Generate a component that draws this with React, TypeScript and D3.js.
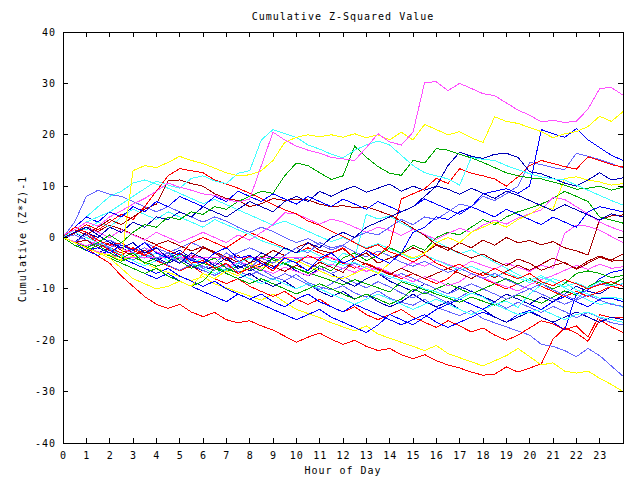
import React from "react";
import * as d3 from "d3";

const hours = [0,0.5,1,1.5,2,2.5,3,3.5,4,4.5,5,5.5,6,6.5,7,7.5,8,8.5,9,9.5,10,10.5,11,11.5,12,12.5,13,13.5,14,14.5,15,15.5,16,16.5,17,17.5,18,18.5,19,19.5,20,20.5,21,21.5,22,22.5,23,23.5,24];
const xTicks = [0,1,2,3,4,5,6,7,8,9,10,11,12,13,14,15,16,17,18,19,20,21,22,23];
const yTicks = [-40,-30,-20,-10,0,10,20,30,40];

const RED = "#ff0000", GREEN = "#00a800", BLUE = "#0000ff", MAGENTA = "#ff50ff", CYAN = "#40ffff",
  YELLOW = "#ffff00", DARKRED = "#a80000", DARKBLUE = "#0000b8", SLATE = "#6464ff";

const m1 = [0.5,1.5,3,2.2,4,5.2,6.5,7.6,9,10.6,9.8,9.2,8.5,8.2,7.4,6.9,7.5,14,20.5,19,17.8,17,16.4,15.6,15.3,15,17.5,20.2,18.6,18,20.5,30.2,30.3,28.6,30,29,28,27.6,26.2,24.8,23.8,22.5,22.8,22.4,22.6,25,29,29.2,27.7];
const y1 = [0,-1,-2,-3,-3.4,-4.5,13,14,13.6,14.6,15.8,15,14.4,13.5,12.6,12,12.2,13,15,18.5,19.5,20,19.6,20,19.5,20.2,19.4,20,19,20.5,19,22,21,20,20.6,19.4,18.5,23.5,22.6,22.2,21.4,20.6,19.4,20.2,20.6,21.6,23.6,22.6,24.5];
const c1 = [0,1.5,3,4,5,6.5,8,9.5,11,10.2,9.6,11.5,12,11,10.5,12.5,13,19,21,20.2,19.5,18,17.2,16.2,15.5,17,18,18.8,18,16,14,12.6,12,11.4,10.2,15.6,15.2,15,14,13.2,12.4,11.8,11.4,11.2,10.2,9.2,8.2,7.2,6.3];
const g1 = [0,-1,-2,-1,0.5,-1,1,2.5,2,4,3.5,5,4.5,6,5.5,7,8,9,8.6,12,14.5,14,12.6,11.3,12,17.8,15.6,13.8,12.5,12.1,15,14.5,17.3,17,16.2,15.5,14.6,13.6,12.6,12,11.6,11.4,10.8,10.2,9.4,9.6,10,9.2,9.8];
const b1 = [0,-1,-2.5,-2,-3,-1.5,-2.5,-1,-3,-4,-3,-4.5,-5,-3,-2,-4,-3.5,-5,-6,-4,-5,-6.5,-4,-3,-5,-4,-2.5,-4,-5,-3,1,2,4,3.5,5,6,8.5,9,9.5,8.6,10,21,20.2,19.5,21.2,19,17.5,16,15];
const b2 = [0,1,2,0.5,-1,-2,-1,-3,-2,-4,-5,-3,-4,-5.5,-4,-6,-5,-3,-4,-2,-3,-1,-2,0,1,0,2,3,4,5,6,8,10,14,16.6,15.8,15.4,16.2,16.4,15.6,12.8,12.4,11.5,10.6,10,11.2,12.6,11.2,11.6];
const s1 = [0,-1,0.5,-0.5,-2,-1,-3,-2,-4,-3,-5,-4,-6,-5,-3,-4.5,-6,-4,-5,-3.5,-2,-3,-1,-2,-1.5,0,1,0.5,2,3.5,2.5,4,3.5,5,6.5,6,8,7.2,8.5,10,14.6,14.2,13.6,13.2,16.4,15.8,15.2,14.4,13.5];
const r1 = [0,2,1,-0.5,-1.5,-1,-2.5,-3.5,-2,-4,-3,-5,-4.5,-6,-5,-7,-6,-5,-6.5,-4,-5,-3.5,-4.5,-3,-2,-4,-2.5,-3.5,-1.5,7.5,8.5,9.5,11.5,10.5,13.4,12.5,12,11.4,10,11.8,14,15,14.4,13.8,13.3,15.7,15,14.2,13.7];
const dr1 = [0,1.5,0.5,2,3.5,2.5,4,5.5,6.5,11,11.2,10.5,10,8.5,7.6,7.2,6,6.6,7.6,7.2,7.4,7.3,6.5,6,6.2,5.8,6,5.2,4.4,3.2,1.8,0.4,-1.4,-2,-3,-4,-3.2,-4.5,-5.5,-4.2,-5,-6.4,-5.5,-4.8,-6.2,-5,-3.8,-4.6,-4.4];
const r2 = [0,1,2.5,1.5,3,4.5,3.5,6,9,12,13.4,13,12.6,11.2,10.4,9.6,8.6,7.6,6.4,5.4,4.6,3.2,2.4,1.2,0.2,-1,-2.2,-1.4,-2.8,-3.6,-4.8,-3.4,-5,-6,-5.2,-6.6,-7.4,-6,-7.2,-8,-7,-8.6,-9.4,-8.2,-9,-10,-9.2,-8.6,-9.5];
const dr2 = [0,-1,-0.5,-2,-1,-2.5,-3.5,-2.5,-4,-3,-5,-4,-2,-3,-4.5,-3.5,-5,-4,-2.5,-3.5,-2,-1,-2.5,-3,-2.2,-4,-3,-5,-4,-3.2,-2,-3,-1.5,-2.5,-1,-2,-0.5,-1.5,0,-1,-0.6,-1.4,-0.8,-2,-2.6,-3.4,3.5,4.2,4.4];
const g2 = [0,-1.5,-2.5,-1.5,-3,-4,-3,-5,-4,-3,-4.5,-6,-5,-4,-6,-7,-5.5,-6.5,-4,-5,-6,-7,-5.5,-6.5,-4,-3,-4.5,-3.5,-2,-3,-1.5,-2.5,0,1,0.5,2,3.5,2.5,4,5,5.7,6.5,7.6,9,8,7,4,3.4,2.8];
const c2 = [0,2,1.5,3,2,4,5.5,4.5,3.5,5,4,3,2,3.5,2.5,1.5,0.6,-0.6,-1.4,-2.2,-3,-2.4,-3.6,-4.6,-5.4,-4.8,-6,-6.8,-7.6,-8.4,-9,-10,-10.6,-11.5,-12,-10.8,-11.6,-13,-12.4,-13.6,-11,-9.2,-8,-8.8,-10.2,-11,-11.8,-11.6,-12];
const s2 = [0,-0.8,-1.6,-1,-2.2,-3,-2,-3.4,-4.2,-3.6,-5,-4.2,-5.6,-6.4,-5.2,-6.6,-7.4,-6.2,-7.6,-8.4,-7.2,-8.8,-9.6,-10.2,-9.4,-10.8,-11.6,-10.4,-11.8,-12.6,-13.2,-12,-13.6,-14.4,-15.2,-14.2,-15.8,-16.6,-17.4,-18.2,-19,-20.8,-21.2,-22,-23.2,-21.6,-23,-25,-27];
const y2 = [0,-1,-2,-2.8,-3.6,-4.4,-3.6,-5,-6,-6.8,-7.6,-8.4,-7.6,-9,-9.8,-10.6,-11.4,-12.2,-11,-12.6,-14,-14.8,-15.6,-16.6,-17.4,-18.2,-17.2,-18.8,-19.6,-20.4,-21.2,-22,-21,-22.6,-23.4,-24.2,-25,-24,-23,-21.6,-23.2,-24.8,-24.4,-26,-26.4,-26,-27.4,-28.6,-30];
const r3 = [0,-1,-2,-3.6,-5,-7.5,-9.5,-11.5,-13,-13.8,-13,-14.5,-15.4,-14.6,-16,-16.6,-16.2,-17.2,-18,-19.2,-20.4,-19.4,-18.6,-19.8,-20.8,-20,-21.2,-22,-21.6,-22.8,-23.6,-22.8,-24,-24.8,-25.4,-26.2,-26.8,-26.6,-25.2,-26.2,-25.4,-24.6,-19.8,-17.6,-18.6,-20.2,-16,-17.4,-18.5];
const r4 = [0,-1,0.5,-1,-2,-3,-2,-3.5,-4.5,-5.5,-6.5,-5.5,-7,-8,-9,-8,-9.5,-10.5,-11.5,-10.5,-12,-13,-12,-13.5,-14.5,-13.5,-15,-16,-15,-14,-15.5,-16.5,-17.5,-16.2,-17.2,-18.4,-17.6,-19,-20,-19,-17.6,-16.2,-16.8,-18,-17.2,-19.4,-15,-15.6,-15.5];
const b3 = [0,-1.5,-2.5,-3.5,-2.5,-4,-5,-6,-7,-6,-7.5,-8.5,-9.5,-8.5,-10,-11,-12,-11,-12.5,-13.5,-12,-11,-12.5,-13.5,-14.5,-13,-14,-15,-16,-17,-16,-15,-16.5,-17.5,-16.5,-15.5,-14.5,-15.5,-16.5,-15,-14.2,-15.5,-16.5,-18,-11,-10.2,-8,-6.8,-6.3];
const b4 = [0,1,-0.5,-1.5,-0.5,-2,-3,-2,-4,-5,-4,-5.5,-6.5,-5.5,-7,-8,-7,-8.5,-9.5,-8.5,-10,-9,-10.5,-11.5,-10.5,-12,-11,-12.5,-13.5,-12.5,-11,-12.5,-13.5,-12.5,-14,-15,-14,-15.5,-16.5,-15.5,-14.5,-15.5,-16.5,-15.5,-14.5,-15.5,-16.5,-15.5,-16];
const m2 = [0,-0.8,-1.6,-0.6,-1.4,-2.2,-3,-2,-2.8,-3.6,-4.4,-3.4,-4.2,-5,-5.8,-4.6,-5.4,-6.2,-7,-5.8,-6.6,-7.4,-6.4,-5.2,-6,-6.8,-5.6,-6.4,-7.2,-6,-4.8,-5.6,-4.4,-5.2,-6,-4.6,-5.4,-6.2,-5,-5.8,-6.6,-5.4,-6,0.8,2.4,2.2,1.4,0.2,-1];
const m3 = [0,-1,-2,-2.8,-3.4,-3.9,-3.9,-3.9,-3.9,-3.9,-3.9,-3.9,-3.9,-3.9,-3.9,-3.9,-3.9,-3.9,-3.9,-3.9,-3.9,-3.9,-3.9,-3.9,-4.8,-5.6,-6.6,-5.8,-6.8,-7.6,-8.6,-7.6,-8.4,-9.4,-8.6,-7,-7.8,-8.8,-9.6,-10.4,-9.2,-8.2,-7.4,-6.4,-5.4,-6.2,-5.2,-6,-5.7];
const c3 = [0,1,0,-1,-2,-1,-3,-4,-3,-4.5,-3.5,-5,-4,-5.5,-6.5,-5,-4,-5,-6,-5,-4.5,-3.5,-4.5,-5.5,-3,-4,4.5,3.6,4.2,2.8,1.6,0.4,-0.8,-2,-3.2,-2.4,-3.6,-4.8,-6,-7.2,-8.4,-7.4,-8.6,-9.8,-11,-12.2,-13,-12.8,-13.6];
const s3 = [0,-1,-2,-1.2,-2.4,-3.4,-4.4,-3.2,-4.2,-5.4,-6.4,-5.2,-6.4,-7.4,-6.2,-5,-6,-7.2,-8.2,-7,-8,-9.2,-10.2,-9,-7.6,-8.8,-9.8,-8.6,-9.6,-10.8,-11.8,-10.6,-11.6,-12.8,-11.6,-10.4,-11.6,-12.6,-13.8,-12.6,-13.6,-14.6,-13.4,-14.4,-15.6,-14.6,-15.6,-16.6,-17];
const db1 = [0,-1,-2,-3,-2,-1,-2.5,-3.5,-4.5,-3.5,-2.5,-4,-5,-3,-4,-5.5,-6.5,-5.5,-4,-5,-6.5,-7.5,-6,-7,-8.5,-9.5,-8,-7,-8.5,-9.5,-10.5,-9,-10,-11,-9.5,-10.5,-11.5,-12.5,-11,-12,-13,-11.5,-12.5,-11,-9.5,-10.5,-11,-9.5,-10];
const g3 = [0,-0.8,-1.8,-2.8,-3.6,-4.6,-3.8,-4.8,-5.6,-4.8,-3.2,-4,-5,-5.8,-6.6,-5.6,-6.4,-3.6,-4.4,-5.2,-6,-6.8,-7.6,-8.4,-9.2,-8.2,-9,-9.8,-10.6,-8.6,-9.4,-10.2,-11,-11.8,-12.6,-11.6,-12.4,-13.2,-12,-11.2,-12,-12.8,-11.6,-10.4,-11.2,-9.6,-8.4,-9.2,-8];
const s4 = [0,3,8,9.2,8.4,8,7,6,5,6,5,4,3,4,3.2,2,1,2,1.2,0,-1,-0.2,-1.4,-2.4,-1.6,-2.8,-3.8,-2.6,-3.6,-4.8,-5.6,-4.6,-5.8,-6.8,-6,-7,-8,-7,-8.2,-9.2,-10,-9,-10.2,-11.2,-12.2,-11.2,-12.2,-13,-13.4];
const b6 = [0,2,4,3,5,4,6,5,7,6,8,7,6,8,7,9,8,7,8.5,7.5,6.5,8,7,6,7.5,6.5,5.5,7,6,5,6,7.5,6.5,5.5,4.5,6,5,4,5.5,4.5,3.5,2.5,4,3,2,5,6,5.5,5];
const db2 = [0,-1,1,0,2,1,3,2,4,3.5,5,4,6,5,4,5.5,7,6,5,7,8,7,9,8,9.2,10,8.8,9.6,10.4,9,10,9.2,10,9.4,8.4,9.6,8.6,7.6,9,8.2,7.2,6.2,5.2,6.4,5.4,4.4,3.4,4.6,4];
const c4 = [0,2,4,6,8,9,10.6,11.2,10.4,9.6,8.6,7.6,6.6,7.4,6.4,5.4,4.4,3.4,2.4,3.2,2.2,1.2,0.2,-0.8,0,-1,-2,-1.2,-2.2,-3.2,-4.2,-3.4,-4.4,-5.4,-6.4,-5.6,-6.6,-7.6,-6.8,-7.8,-8.8,-7.8,-8.6,-9.6,-8.8,-9.8,-8.6,-9.4,-9];
const dr3 = [0,0.8,2,1.2,2.4,1.6,0.6,-0.4,-1.4,-0.6,-1.6,-2.6,-1.8,-2.8,-3.8,-4.8,-3.6,-4.6,-5.6,-6.6,-5.4,-6.4,-4.8,-5.8,-6.8,-4.2,-5.2,-6.2,-7.2,-6,-7,-8,-7,-6,-7,-8,-6.8,-7.8,-6.6,-5.4,-6.4,-5.2,-4,-5,-6,-4.6,-3.6,-4.4,-3.2];
const y3 = [0,-1,-2,-3,-4,-6,-8,-9,-10,-9.5,-8.5,-9.5,-7,-8,-6.5,-7.5,-5,-6,-5,-4,-4.5,-5.5,-6.5,-7.5,-8,-7,-6,-7,-5,-3,-4,-3,-1,0,-1,1,2,3,2,3.5,4.5,6,5.5,11.5,11.8,11.2,10.8,10.2,10.5];
const g4 = [0,-1,-2,-3,-4,-5,-6,-7,-6,-7.5,-8.5,-9.5,-8.5,-6,-7,-8,-9,-8,-9,-10,-11,-10,-9,-10,-11,-12,-11,-12,-13,-12,-10,-11,-10,-9,-10,-11,-10,-9,-8,-9,-8,-9,-10,-9,-7,-6.5,-7,-7.8,-7.4];
const m4 = [0,1,2,1,0,1.5,0.5,-0.5,1,0,-1,0,1,0,-1,0.5,-0.5,1,2.5,4.8,4.6,3.6,2.6,3.6,3,2,1,2,1.4,0.4,1.6,0.6,-0.4,0.8,1.8,1,2.4,3.4,2.6,3.8,4.6,5.4,7.8,7.4,6,4.6,3,2,1.2];
const r5 = [0,-1,-2,-1,-2.5,-3.5,-2,-3,-1.5,-2.5,-3.5,-1,0,-1,-2,-0.5,1,0,-1,-2,-3,-2,-3,-4,-5,-6,-5,-6,-7,-8,-7,-8,-9,-8,-6,-7,-8,-9,-10,-9,-8,-9.5,-10.5,-11.5,-10.5,-11.5,-10.5,-9.5,-10];
const b7 = [0,-1,-2,-3,-4,-5,-6,-7,-8,-7,-8.5,-9.5,-10.5,-11.5,-12.5,-11,-12,-13,-14,-15,-16,-15,-14,-15.5,-16.5,-17.5,-18.5,-17,-15,-16,-17,-15.5,-14,-13,-12,-13,-14,-12.5,-11,-12,-13,-14,-12.5,-11.5,-12.5,-13.5,-12,-11.8,-12.5];
const s5 = [0,0.5,-0.5,-1.5,-0.5,-1.5,-2.5,-1,-2,-3,-2,-1,-2,-3,-4,-3,-2,-3,-4,-5,-4,-5,-6,-7,-6,-5,-6,-7,-8,-7,-8,-9,-10,-11,-10,-9,-10,-11,-12,-11,-10,-11,-12,-13,-12,-10,-9,-9.5,-9];
const c5 = [0,-1,-2,-3,-2,-3.5,-4.5,-5.5,-4.5,-3,-4,-5,-6,-7,-6,-7,-8,-9,-8,-9,-10,-9,-10,-11,-12,-13,-12,-11,-12,-13,-14,-13,-12,-13,-14,-15,-14,-13,-14,-15,-14.5,-14,-15,-16,-15,-14.5,-15.5,-16,-16.5];

const seriesList = [
  { v: r3, c: RED }, { v: y2, c: YELLOW }, { v: s2, c: SLATE }, { v: r4, c: RED },
  { v: b3, c: BLUE }, { v: b4, c: DARKBLUE }, { v: s3, c: SLATE }, { v: c5, c: CYAN },
  { v: b7, c: BLUE }, { v: g3, c: GREEN }, { v: db1, c: DARKBLUE }, { v: s5, c: SLATE },
  { v: r5, c: RED }, { v: g4, c: GREEN }, { v: c3, c: CYAN }, { v: m3, c: MAGENTA },
  { v: m2, c: MAGENTA }, { v: dr3, c: DARKRED }, { v: c4, c: CYAN }, { v: s4, c: SLATE },
  { v: c2, c: CYAN }, { v: dr2, c: DARKRED }, { v: g2, c: GREEN }, { v: m4, c: MAGENTA },
  { v: y3, c: YELLOW }, { v: r2, c: RED }, { v: dr1, c: DARKRED }, { v: db2, c: DARKBLUE },
  { v: b6, c: BLUE }, { v: s1, c: SLATE }, { v: r1, c: RED }, { v: b2, c: DARKBLUE },
  { v: b1, c: BLUE }, { v: g1, c: GREEN }, { v: c1, c: CYAN }, { v: y1, c: YELLOW },
  { v: m1, c: MAGENTA },
];

const L = 63, R = 623, T = 32, B = 443;
const FONT = "'DejaVu Sans Mono', monospace";

export default function App() {
  const x = d3.scaleLinear().domain([0, 24]).range([L, R]);
  const y = d3.scaleLinear().domain([-40, 40]).range([B, T]);
  const line = d3.line<number>().x((_, i) => x(hours[i])).y((d) => y(d));
  const txt = { fontFamily: FONT, fontSize: 10, letterSpacing: 1, fill: "#000" } as const;
  return (
    <svg width={640} height={480} style={{ position: "absolute", left: 0, top: 0, background: "#fff" }}>
      <rect x={0} y={0} width={640} height={480} fill="#fff" />
      <g shapeRendering="crispEdges">
        {seriesList.map((s, i) => (
          <path key={i} d={line(s.v) || ""} fill="none" stroke={s.c} strokeWidth={1} />
        ))}
      </g>
      <g shapeRendering="crispEdges" stroke="#000" strokeWidth={1}>
        <rect x={L} y={T} width={R - L} height={B - T} fill="none" />
        {xTicks.map((t) => (
          <g key={"xt" + t}>
            <line x1={x(t)} x2={x(t)} y1={B} y2={B - 5} />
            <line x1={x(t)} x2={x(t)} y1={T} y2={T + 5} />
          </g>
        ))}
        {yTicks.map((t) => (
          <g key={"yt" + t}>
            <line x1={L} x2={L + 5} y1={y(t)} y2={y(t)} />
            <line x1={R} x2={R - 5} y1={y(t)} y2={y(t)} />
          </g>
        ))}
      </g>
      {xTicks.map((t) => (
        <text key={"xl" + t} x={x(t) + 0.5} y={459} textAnchor="middle" {...txt}>{t}</text>
      ))}
      {yTicks.map((t) => (
        <text key={"yl" + t} x={56} y={y(t) + 3.5} textAnchor="end" {...txt}>{t}</text>
      ))}
      <text x={343} y={20} textAnchor="middle" {...txt}>Cumulative Z-Squared Value</text>
      <text x={343} y={474} textAnchor="middle" {...txt}>Hour of Day</text>
      <text transform="translate(26,239) rotate(-90)" textAnchor="middle" {...txt}>Cumulative (Z*Z)-1</text>
    </svg>
  );
}
